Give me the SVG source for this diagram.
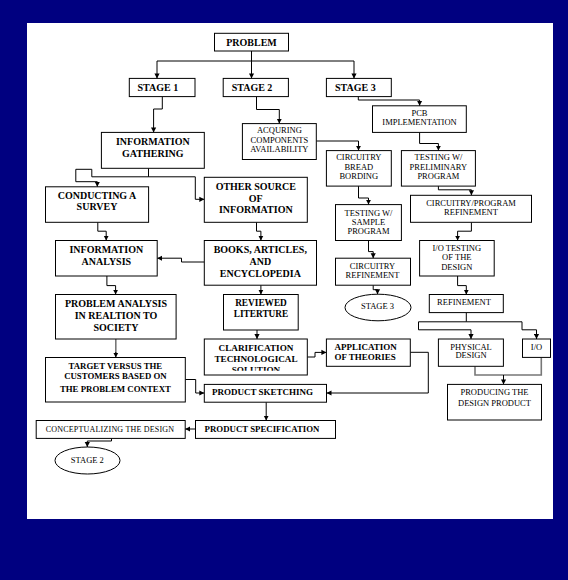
<svg xmlns="http://www.w3.org/2000/svg" width="568" height="580" viewBox="0 0 568 580">
<defs>
<style>
.bx{fill:#fff;stroke:#000;stroke-width:1}
.c{fill:none;stroke:#000;stroke-width:1}
.g{fill:none;stroke:#777;stroke-width:1.6}
.b{font-family:"Liberation Serif","Times New Roman",serif;font-weight:bold;font-size:10px;fill:#000;text-anchor:middle}
.l{font-family:"Liberation Serif","Times New Roman",serif;font-size:8.5px;fill:#000;text-anchor:middle}
.s{text-anchor:start}
</style>
<marker id="ah" markerWidth="6" markerHeight="6" refX="5" refY="3" orient="auto" markerUnits="userSpaceOnUse"><path d="M0,0.4 L5,3 L0,5.6 z" fill="#000"/></marker>
<clipPath id="ctsclip"><rect x="204.8" y="339.5" width="102" height="31.3"/></clipPath>
</defs>
<rect x="0" y="0" width="568" height="580" fill="#000080"/>
<rect x="27" y="23" width="526" height="496" fill="#fff"/>

<g id="connectors">
<path class="c" marker-end="url(#ah)" d="M251.5,51 V61 H157 V78.4"/>
<path class="c" marker-end="url(#ah)" d="M251.5,51 V78.4"/>
<path class="c" marker-end="url(#ah)" d="M251.5,61 H354 V78.4"/>
<path class="c" marker-end="url(#ah)" d="M162.3,96.6 V109 H153.6 V132.4"/>
<path class="c" marker-end="url(#ah)" d="M256.5,96.6 V109.5 H279.3 V123.6"/>
<path class="c" marker-end="url(#ah)" d="M358.3,96.6 V100 H419.6 V105.8"/>
<path class="c" marker-end="url(#ah)" d="M316.3,141 H358.5 V150.6"/>
<path class="c" marker-end="url(#ah)" d="M419.6,132.4 V143.5 H438.4 V150.6"/>
<path class="c" marker-end="url(#ah)" d="M438.4,186.1 V189.8 H471.4 V195.3"/>
<path class="c" marker-end="url(#ah)" d="M358.5,186.1 V198 H368.5 V204.6"/>
<path class="c" marker-end="url(#ah)" d="M368.5,240.5 V251.6 H373.2 V258.2"/>
<path class="c" marker-end="url(#ah)" d="M373.2,285.2 V289.7 H377.5 V294.2"/>
<path class="c" marker-end="url(#ah)" d="M471.4,222.3 V231.2 H457.6 V240.5"/>
<path class="c" marker-end="url(#ah)" d="M457.6,276 V285.6 H466.3 V294.5"/>
<path class="c" marker-end="url(#ah)" d="M466.3,312.6 V321.8 H418.5 V329.8 H471 V339"/>
<path class="c" marker-end="url(#ah)" d="M466.3,321.8 H522 V329.8 H536.5 V339"/>
<path class="g" d="M475,366.3 V375 H541.3 V357.4"/>
<path class="c" marker-end="url(#ah)" d="M503.5,375 V384.4"/>
<path class="c" marker-end="url(#ah)" d="M148.5,168.3 V176.8 H91.8 V169.3 H75.8 V181.7 H97.3 V186.8"/>
<path class="c" marker-end="url(#ah)" d="M148.5,176.8 H195.3 V199.3 H204.3"/>
<path class="c" marker-end="url(#ah)" d="M256.5,222.3 V231.2 H260.9 V240.5"/>
<path class="c" marker-end="url(#ah)" d="M97.8,222.3 V231.2 H106.2 V240.5"/>
<path class="c" marker-end="url(#ah)" d="M204.3,262 H181.5 V258.2 H157.2"/>
<path class="c" marker-end="url(#ah)" d="M106.9,276 V285.6 H115.6 V294.5"/>
<path class="g" d="M115.8,339 V353"/>
<path class="c" marker-end="url(#ah)" d="M115.8,352 V357.5"/>
<path class="c" marker-end="url(#ah)" d="M260.9,285.2 V294.5"/>
<path class="c" marker-end="url(#ah)" d="M257,330 V339"/>
<path class="c" marker-end="url(#ah)" d="M307.2,357 H315 V352.4 H326.4"/>
<path class="c" marker-end="url(#ah)" d="M185.3,379.5 H195.7 V393 H204.3"/>
<path class="c" marker-end="url(#ah)" d="M410.3,352.3 H428.3 V393 H326.5"/>
<path class="c" marker-end="url(#ah)" d="M266.2,402.2 V420.5"/>
<path class="c" marker-end="url(#ah)" d="M195.5,429 H185.2"/>
<path class="c" marker-end="url(#ah)" d="M111.5,438.4 V441 H87.3 V447"/>
</g>

<g id="problem"><rect class="bx" x="214.5" y="33.3" width="74" height="17.7"/><text class="b" x="251.5" y="45.5">PROBLEM</text></g>
<g id="stage1"><rect class="bx" x="129.3" y="78.4" width="65.7" height="18.2"/><text class="b s" x="137.5" y="91">STAGE 1</text></g>
<g id="stage2"><rect class="bx" x="223.2" y="78.4" width="65.2" height="18.2"/><text class="b s" x="231.7" y="91">STAGE 2</text></g>
<g id="stage3"><rect class="bx" x="326.4" y="78.4" width="64.9" height="18.2"/><text class="b s" x="335" y="91">STAGE 3</text></g>
<g id="info-gathering"><rect class="bx" x="101.4" y="132.4" width="102.9" height="35.9"/><text class="b" x="152.8" y="145">INFORMATION</text><text class="b" x="152.8" y="156.6">GATHERING</text></g>
<g id="acquiring"><rect class="bx" x="242.4" y="123.6" width="73.9" height="35.9"/><text class="l" x="279.4" y="133.2">ACQURING</text><text class="l" x="279.4" y="142.6">COMPONENTS</text><text class="l" x="279.4" y="152.2">AVAILABILITY</text></g>
<g id="pcb"><rect class="bx" x="372.5" y="105.8" width="93.8" height="26.6"/><text class="l" x="419.5" y="116.3">PCB</text><text class="l" x="419.5" y="125.1">IMPLEMENTATION</text></g>
<g id="bread-bording"><rect class="bx" x="326.4" y="150.6" width="64.9" height="35.5"/><text class="l" x="358.8" y="160.1">CIRCUITRY</text><text class="l" x="358.8" y="169.5">BREAD</text><text class="l" x="358.8" y="178.8">BORDING</text></g>
<g id="testing-prelim"><rect class="bx" x="401.4" y="150.6" width="74" height="35.5"/><text class="l" x="438.4" y="160.1">TESTING W/</text><text class="l" x="438.4" y="169.5">PRELIMINARY</text><text class="l" x="438.4" y="178.8">PROGRAM</text></g>
<g id="circ-prog-ref"><rect class="bx" x="410.5" y="195.3" width="121" height="27"/><text class="l" x="471" y="206.1">CIRCUITRY/PROGRAM</text><text class="l" x="471" y="215.1">REFINEMENT</text></g>
<g id="testing-sample"><rect class="bx" x="335.5" y="204.6" width="65.9" height="35.9"/><text class="l" x="368.5" y="215.5">TESTING W/</text><text class="l" x="368.5" y="224.5">SAMPLE</text><text class="l" x="368.5" y="233.8">PROGRAM</text></g>
<g id="circ-ref"><rect class="bx" x="335.5" y="258.2" width="75" height="27"/><text class="l" x="372.5" y="268.8">CIRCUITRY</text><text class="l" x="372.5" y="277.5">REFINEMENT</text></g>
<g id="stage3-end"><ellipse class="bx" cx="378" cy="307.5" rx="33" ry="13.3"/><text class="l" x="377.5" y="308.8">STAGE 3</text></g>
<g id="io-testing"><rect class="bx" x="419.6" y="240.5" width="74.6" height="35.5"/><text class="l" x="456.8" y="250.8">I/O TESTING</text><text class="l" x="456.8" y="260.1">OF THE</text><text class="l" x="456.8" y="269.5">DESIGN</text></g>
<g id="refinement"><rect class="bx" x="429.3" y="294.5" width="74" height="18.1"/><text class="l" x="464" y="304.5">REFINEMENT</text></g>
<g id="physical"><rect class="bx" x="438.4" y="339" width="65" height="27.3"/><text class="l" x="471" y="349.5">PHYSICAL</text><text class="l" x="471" y="358.1">DESIGN</text></g>
<g id="io"><rect class="bx" x="522.5" y="339" width="28" height="18.4"/><text class="l" x="536.5" y="349.5">I/O</text></g>
<g id="producing"><rect class="bx" x="447.5" y="384.4" width="94" height="35.6"/><text class="l" x="494.5" y="394.8">PRODUCING THE</text><text class="l" x="494.5" y="405.5">DESIGN PRODUCT</text></g>
<g id="survey"><rect class="bx" x="45.5" y="186.8" width="103.1" height="35.5"/><text class="b" x="97" y="199">CONDUCTING A</text><text class="b" x="97" y="210.3">SURVEY</text></g>
<g id="other-source"><rect class="bx" x="204.3" y="177.3" width="103" height="45"/><text class="b" x="255.8" y="189.8">OTHER SOURCE</text><text class="b" x="255.8" y="201.5">OF</text><text class="b" x="255.8" y="213.3">INFORMATION</text></g>
<g id="info-analysis"><rect class="bx" x="55.5" y="240.5" width="101.7" height="35.5"/><text class="b" x="106.3" y="252.6">INFORMATION</text><text class="b" x="106.3" y="265">ANALYSIS</text></g>
<g id="books"><rect class="bx" x="204.3" y="240.5" width="112.2" height="44.7"/><text class="b" x="260.3" y="253">BOOKS, ARTICLES,</text><text class="b" x="260.3" y="264.5">AND</text><text class="b" x="260.3" y="276.7">ENCYCLOPEDIA</text></g>
<g id="problem-analysis"><rect class="bx" x="55.5" y="294.5" width="120.6" height="44.5"/><text class="b" x="116" y="306.6">PROBLEM ANALYSIS</text><text class="b" x="116" y="319">IN REALTION TO</text><text class="b" x="116" y="330.6">SOCIETY</text></g>
<g id="reviewed"><rect class="bx" x="223.5" y="294.5" width="74.7" height="35.5"/><text class="b" x="261" y="305.7" style="font-size:9.3px">REVIEWED</text><text class="b" x="261" y="317.3" style="font-size:9.3px">LITERTURE</text></g>
<g id="clarification"><rect class="bx" x="204.3" y="339" width="103" height="36"/><g clip-path="url(#ctsclip)"><text class="b" x="256" y="350.7" style="font-size:9.2px">CLARIFICATION</text><text class="b" x="256" y="361.7" style="font-size:9.2px">TECHNOLOGICAL</text><text class="b" x="256" y="372.8" style="font-size:9.2px">SOLUTION</text></g></g>
<g id="application"><rect class="bx" x="326.4" y="339" width="83.9" height="27.3"/><text class="b s" x="334.4" y="350.3" style="font-size:9px">APPLICATION</text><text class="b s" x="334.4" y="360.3" style="font-size:9px">OF THEORIES</text></g>
<g id="target"><rect class="bx" x="45.5" y="357.5" width="139.8" height="44.5"/><text class="b" x="115.4" y="368.5" style="font-size:8.8px">TARGET VERSUS THE</text><text class="b" x="115.4" y="379.3" style="font-size:8.8px">CUSTOMERS BASED ON</text><text class="b" x="115.4" y="391.6" style="font-size:8.8px">THE PROBLEM CONTEXT</text></g>
<g id="sketching"><rect class="bx" x="204.3" y="384.4" width="122.2" height="17.8"/><text class="b" x="262.5" y="394.9" style="font-size:9px">PRODUCT SKETCHING</text></g>
<g id="specification"><rect class="bx" x="195.5" y="420.5" width="140" height="17.9"/><text class="b" x="262" y="431.6" style="font-size:8.8px">PRODUCT SPECIFICATION</text></g>
<g id="conceptualizing"><rect class="bx" x="36.2" y="420.5" width="149" height="17.9"/><text class="l" x="110" y="431.8" style="font-size:8px;letter-spacing:0.2px">CONCEPTUALIZING THE DESIGN</text></g>
<g id="stage2-end"><ellipse class="bx" cx="87.5" cy="460.5" rx="32.5" ry="13.5"/><text class="l" x="87.3" y="462.8">STAGE 2</text></g>
</svg>
